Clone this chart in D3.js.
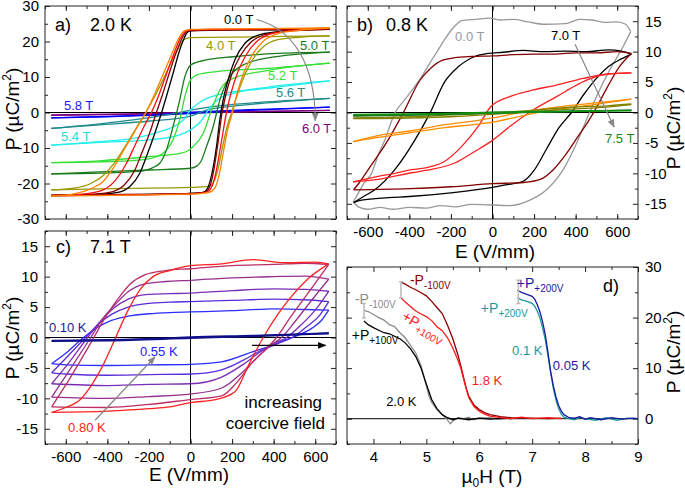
<!DOCTYPE html>
<html><head><meta charset="utf-8">
<script src="https://cdnjs.cloudflare.com/ajax/libs/d3/7.8.5/d3.min.js"></script>
<style>
body{margin:0;background:#fff;}
svg{display:block;}
</style></head><body>
<script>
var w = 685, h = 491;
var font = "'Liberation Sans', Arial, Helvetica, sans-serif";

// ---------- tick labels ----------
var ticksE = [-600,-400,-200,0,200,400,600];
var ticksPa = [-30,-20,-10,0,10,20,30];
var ticksPbc = [-15,-10,-5,0,5,10,15];
var ticksH = [4,5,6,7,8,9];
var ticksPd = [0,10,20,30];

// ---------- panel a: 2.0 K, P(E) loops at several fields. [upper branch, lower branch], E in V/mm ----------
var loopsA = [
  // 6.0 T
  [[[-670,-0.7],[-300,-0.4],[0,0],[300,0.3],[670,0.6]],
   [[-670,-0.8],[-300,-0.5],[0,-0.1],[300,0.2],[670,0.6]]],
  // 5.8 T
  [[[-670,-1.5],[-400,-1.1],[-100,-0.4],[0,0],[200,0.6],[450,1.1],[670,1.5]],
   [[-670,-1.5],[-400,-1.2],[-100,-0.6],[0,-0.3],[200,0.4],[450,1.0],[670,1.5]]],
  // 5.6 T
  [[[-670,-4.5],[-437,-3.2],[-276,-2.1],[-116,-0.7],[0,0.7],[125,1.8],[366,3.0],[670,4.0]],
   [[-670,-4.5],[-437,-3.5],[-196,-2.4],[0,-1.0],[77,0.7],[205,1.8],[366,2.7],[670,4.0]]],
  // 5.4 T
  [[[-670,-9.2],[-437,-8.2],[-276,-7.3],[-148,-5.4],[-67,-3.5],[-35,-2.1],[0,0.7],[48,3.0],[125,4.9],[366,6.8],[670,8.9]],
   [[-670,-9.2],[-437,-8.4],[-196,-7.7],[-52,-6.3],[0,-4.9],[48,-2.6],[96,1.6],[141,4.0],[205,5.4],[366,7.1],[670,8.9]]],
  // 5.2 T
  [[[-670,-14.1],[-437,-13.9],[-212,-13.2],[-160,-12.4],[-132,-11.5],[-84,-7.7],[-52,-2.1],[-27,4.5],[0,9.2],[31,10.6],[125,11.5],[366,12.4],[670,13.9]],
   [[-670,-14.1],[-437,-13.6],[-196,-12.4],[-52,-11.5],[-10,-10.7],[13,-9.6],[61,-5.9],[101,0.7],[141,6.3],[205,9.6],[366,11.8],[670,13.9]]],
  // 5.0 T
  [[[-670,-17.3],[-437,-17.1],[-260,-16.6],[-212,-16.2],[-170,-15.2],[-148,-14.3],[-116,-10.6],[-84,-4],[-52,3.5],[-27,10.1],[-10,12.6],[0,13.4],[77,14.8],[205,15.7],[366,16.5],[670,17.0]],
   [[-670,-17.3],[-437,-16.7],[-196,-16.2],[0,-15.7],[30,-15.1],[50,-13.8],[77,-9.6],[109,-4],[141,3.5],[189,10.1],[238,12.9],[366,15.3],[670,17.0]]],
  // 4.0 T
  [[[-670,-21.8],[-560,-21.3],[-480,-20],[-421,-17.8],[-370,-14.5],[-310,-9.2],[-260,-4.3],[-215,0],[-170,4.8],[-130,9.5],[-90,14.5],[-60,18],[-30,20.6],[0,21.1],[300,21.3],[670,21.6]],
   [[-670,-21.8],[-300,-21.4],[0,-21.1],[90,-20.8],[112,-19.5],[132,-16],[155,-9.5],[176,-4],[198,0],[225,5],[260,10.5],[300,15],[350,18.5],[420,20.5],[520,21.2],[670,21.6]]],
  // 0.0 T
  [[[-670,-23.4],[-480,-23.2],[-357,-22.6],[-293,-20.9],[-244,-17.1],[-212,-12.4],[-172,-5.9],[-140,-0.2],[-116,4.5],[-84,11],[-52,17.6],[-30,21.0],[-19,22.3],[0,23.0],[150,23.2],[400,23.3],[670,23.5]],
   [[-670,-23.4],[-400,-23.2],[-100,-23.0],[0,-22.8],[60,-22.5],[80,-21.6],[100,-18.0],[125,-9.6],[141,-2.1],[157,3.5],[181,9.2],[213,14.8],[262,19.5],[326,21.8],[420,22.8],[550,23.3],[670,23.5]]],
  // 1 T-ish (dark red)
  [[[-670,-23.3],[-500,-23.1],[-390,-22.5],[-320,-20.5],[-270,-16.5],[-235,-11.5],[-195,-5.5],[-164,0],[-135,5],[-100,11.5],[-65,17.5],[-40,21],[-22,22.6],[0,23.1],[300,23.3],[670,23.4]],
   [[-670,-23.3],[-200,-23.0],[0,-22.8],[65,-22.5],[88,-21.5],[108,-17.5],[130,-9.5],[152,0],[172,5.5],[200,11],[240,16],[290,19.8],[350,21.8],[440,22.8],[670,23.4]]],
  // red
  [[[-670,-23.4],[-520,-23.0],[-420,-21.8],[-360,-19.0],[-310,-14.5],[-265,-9],[-220,-3.5],[-188,0],[-155,4.5],[-115,11],[-80,16.5],[-50,20.8],[-28,22.7],[0,23.3],[300,23.5],[670,23.7]],
   [[-670,-23.4],[0,-22.9],[75,-22.5],[100,-21.2],[120,-17.5],[145,-9.5],[173,0],[195,5.5],[225,11],[265,16],[315,19.8],[380,22],[470,23],[670,23.7]]],
  // orange
  [[[-670,-23.5],[-560,-22.9],[-480,-21.5],[-421,-19.5],[-370,-15.5],[-310,-9.5],[-260,-4.5],[-215,0],[-170,5.5],[-130,11],[-90,16.5],[-60,20.5],[-30,23],[0,23.4],[300,23.6],[670,23.8]],
   [[-670,-23.5],[0,-23.0],[90,-22.5],[117,-21.3],[138,-17.5],[160,-10.5],[180,-4.5],[202,0],[225,5.5],[255,11],[295,16],[345,19.8],[410,22],[500,23],[670,23.8]]]
];
var colorsA = ["#800080","#0000ff","#1f8a8a","#22eeee","#33e033","#1a7a1a","#999900","#000000","#800000","#ff1010","#ff8000"];

// ---------- panel b: 0.8 K ----------
var loopsB = [
  // 0.0 T
  [[[-670,-14.7],[-646,-13.3],[-618,-11.6],[-582,-10],[-550,-7],[-518,-4.5],[-470,-0.1],[-422,2.1],[-380,4],[-341,5.9],[-300,8.2],[-261,10.3],[-230,12],[-197,13.6],[-170,14.6],[-149,15.1],[-80,15.3],[-13,15.5],[40,15.2],[100,15.3],[170,14.9],[250,14.5],[350,14.6],[420,15.3],[480,15.2],[540,14.8],[600,14.9],[640,14.5],[665,13.3]],
   [[-670,-14.7],[-640,-15.6],[-600,-15.9],[-540,-15.6],[-480,-15.9],[-400,-15.6],[-320,-15.7],[-250,-15.3],[-180,-15.5],[-100,-15.1],[0,-15.2],[83,-15.3],[180,-14.4],[260,-12.7],[340,-9.4],[404,-5.1],[452,-1.2],[500,2.6],[564,7.0],[628,10.8],[665,13.3]]],
  // 7.0 T
  [[[-668,-14.8],[-620,-13.8],[-566,-12.7],[-470,-9.4],[-373,-4.5],[-301,-0.1],[-229,5.1],[-165,7.5],[-85,9.2],[-21,9.7],[50,9.9],[150,10.2],[250,10.0],[350,10.1],[450,10.0],[560,10.3],[620,10.1],[668,9.6]],
   [[-668,-14.8],[-630,-14.4],[-500,-14.0],[-400,-13.8],[-200,-13.2],[0,-12.3],[62,-11.9],[147,-11.3],[200,-9.5],[260,-6],[320,-2.5],[380,0],[440,3],[500,5.6],[560,7.6],[620,8.8],[668,9.6]]],
  // dark red
  [[[-668,-12.7],[-640,-11.5],[-598,-9.4],[-502,-4.5],[-430,-0.1],[-349,5.3],[-300,7.2],[-240,8.6],[-181,9.0],[-100,9.2],[0,9.3],[100,9.5],[200,9.6],[300,9.6],[400,9.8],[500,9.8],[600,10.0],[668,9.7]],
   [[-668,-12.7],[-400,-12.5],[-200,-12.2],[0,-11.7],[150,-11.5],[230,-11.0],[290,-9.5],[350,-7],[410,-4],[460,-1.5],[500,0.8],[550,4],[610,7.5],[668,9.7]]],
  // red
  [[[-670,-11.4],[-550,-10.5],[-470,-10.0],[-390,-9.4],[-310,-9.0],[-229,-8.0],[-149,-5.6],[-69,-2.3],[-10,0.9],[83,2.6],[195,3.7],[308,4.5],[436,5.6],[548,6.3],[668,6.5]],
   [[-670,-11.4],[-550,-11.0],[-390,-9.9],[-300,-9.4],[-181,-8.3],[-85,-6.4],[3,-4.5],[83,-2.3],[195,0.4],[308,2.6],[420,4.8],[532,6.2],[668,6.5]]],
  // orange
  [[[-670,-4.8],[-550,-3.8],[-390,-3.0],[-229,-2.0],[-69,-1.3],[0,-0.9],[147,0.1],[308,0.9],[468,1.5],[668,2.2]],
   [[-670,-4.8],[-550,-4.1],[-390,-3.3],[-229,-2.5],[-69,-1.9],[0,-1.6],[147,-0.5],[308,0.5],[468,1.2],[668,2.2]]],
  // olive
  [[[-670,-0.9],[-400,-0.7],[-200,-0.4],[0,-0.1],[200,0.4],[400,0.9],[550,1.1],[668,1.4]],
   [[-670,-1.0],[-400,-0.9],[-200,-0.7],[0,-0.3],[200,0.2],[400,0.6],[550,0.9],[668,1.3]]],
  // dark green
  [[[-670,-0.5],[-300,-0.3],[0,0],[300,0.2],[668,0.4]],
   [[-670,-0.6],[-300,-0.4],[0,-0.1],[300,0.1],[668,0.4]]],
  // 7.5 T
  [[[-670,-0.3],[-300,-0.2],[0,0.05],[300,0.2],[668,0.3]],
   [[-670,-0.4],[-300,-0.3],[0,-0.1],[300,0.1],[668,0.3]]]
];
var colorsB = ["#999999","#000000","#800000","#ff2020","#ff8c00","#808000","#1e6e1e","#109010"];

// ---------- panel c: 7.1 T, temperatures 0.55 K ... 0.80 K ----------
var loopsC = [
  [[[-668,-4.3],[-600,-2.6],[-515,0],[-450,1.6],[-380,2.8],[-300,3.5],[-200,3.9],[-100,4.1],[0,4.2],[200,4.4],[400,4.7],[550,4.6],[665,4.5]],
   [[-668,-4.3],[-600,-4.5],[-400,-4.6],[-200,-4.5],[0,-4.4],[150,-4.0],[294,-2.4],[400,-1.2],[454,-0.4],[520,0.4],[583,1.5],[630,2.8],[665,4.5]]],
  [[[-668,-5.8],[-600,-3.4],[-505,0],[-440,2.3],[-380,3.8],[-300,5.0],[-200,5.6],[-100,5.8],[0,5.9],[200,6.1],[400,6.3],[550,6.2],[665,5.9]],
   [[-668,-5.8],[-600,-6.0],[-400,-6.2],[-200,-6.1],[0,-6.0],[150,-5.3],[250,-3.8],[330,-2.3],[420,-1.0],[490,0],[560,1.8],[620,3.6],[665,5.9]]],
  [[[-668,-7.6],[-600,-4.8],[-495,0],[-430,2.8],[-370,4.8],[-300,6.3],[-200,7.1],[-100,7.2],[0,7.3],[200,7.7],[400,8.0],[550,7.9],[665,7.6]],
   [[-668,-7.6],[-400,-7.9],[-200,-7.7],[0,-7.6],[150,-6.5],[250,-4.5],[330,-2.5],[400,-1.0],[462,0],[530,2.0],[600,4.5],[665,7.6]]],
  [[[-668,-9.8],[-600,-6.3],[-480,0],[-420,3.2],[-360,5.5],[-300,7.5],[-220,8.8],[-120,9.2],[0,9.4],[200,9.8],[400,10.0],[550,10.1],[665,9.6]],
   [[-668,-9.8],[-400,-10.0],[-200,-9.7],[0,-9.3],[150,-8.3],[250,-5.7],[330,-3.0],[390,-1.2],[438,0],[500,2.5],[580,6.0],[665,9.6]]],
  [[[-668,-11.4],[-600,-7.8],[-465,0],[-410,3.3],[-350,6.3],[-290,8.8],[-220,10.3],[-120,11.0],[0,11.3],[200,11.8],[400,12.0],[550,12.2],[665,12.0]],
   [[-668,-11.4],[-400,-11.5],[-200,-11.0],[0,-10.2],[150,-9.6],[220,-7.5],[300,-4.0],[360,-2.0],[414,0],[480,3.3],[570,7.5],[665,12.0]]],
  [[[-668,-12.3],[-600,-11.5],[-530,-10.2],[-470,-7.5],[-420,-4.5],[-360,0],[-300,4.5],[-240,8],[-180,10],[-100,11],[0,11.8],[150,12.1],[300,12.8],[450,12.3],[600,12.4],[665,12.1]],
   [[-668,-12.3],[-400,-12.1],[-200,-11.7],[-100,-11.4],[0,-10.7],[120,-10.2],[214,-8.9],[280,-4.5],[350,0],[420,3.8],[480,6.5],[567,9.7],[665,12.1]]],
  // 0.10 K
  [[[-668,-0.5],[-400,-0.4],[-100,-0.1],[0,0.05],[300,0.3],[500,0.5],[665,0.7]],
   [[-668,-0.6],[-400,-0.5],[0,-0.1],[300,0.2],[665,0.7]]]
];
var colorsC = ["#2d2dff","#5a2ddc","#7a2db4","#96308f","#bb2d66","#ff2222","#10108a"];

// ---------- panel d: P vs field ----------
var dGray = [[3.82,21.4],[3.9,21.2],[4.0,20.6],[4.1,20.0],[4.2,19.5],[4.3,18.6],[4.4,18.2],[4.5,17.0],[4.6,16.0],[4.7,14.5],[4.8,13.0],[4.9,10.5],[5.0,6.5],[5.05,4.5],[5.1,3.2],[5.2,1.8],[5.3,0.8],[5.38,0.0],[5.45,-1.0],[5.52,-0.3],[5.6,0.2],[5.7,0.0],[5.8,0.3],[5.9,-0.2],[6.0,0.1],[6.2,0.2],[6.4,-0.1],[6.55,0.1]];
var dBlack = [[3.82,19.3],[3.9,18.6],[4.0,18.0],[4.1,17.5],[4.2,17.0],[4.3,16.8],[4.4,16.3],[4.5,15.8],[4.6,15.0],[4.7,13.8],[4.8,12.3],[4.9,10.0],[5.0,6.8],[5.1,3.8],[5.2,2.0],[5.3,0.8],[5.4,0.2],[5.5,-0.2],[5.6,0.1],[5.8,-0.2],[6.0,0.1],[6.2,-0.1],[6.5,0.1],[6.6,0]];
var dDarkRed = [[4.52,27.0],[4.6,26.6],[4.7,26.0],[4.8,25.5],[4.9,24.9],[5.0,24.3],[5.1,23.2],[5.2,22.0],[5.3,20.8],[5.4,18.5],[5.5,15.8],[5.6,12.5],[5.65,10.5],[5.7,8.3],[5.75,6.2],[5.8,4.5],[5.9,2.7],[6.0,1.8],[6.1,1.2],[6.2,0.8],[6.4,0.4],[6.6,0.2],[6.8,0.1],[7.0,0.1],[7.3,0],[7.55,0.1]];
var dRed = [[4.52,23.9],[4.6,23.1],[4.7,22.2],[4.8,21.3],[4.9,20.7],[5.0,20.2],[5.1,19.4],[5.2,18.2],[5.3,17.4],[5.4,16.0],[5.5,14.0],[5.6,11.5],[5.65,10.0],[5.7,8.0],[5.75,6.0],[5.8,4.2],[5.9,2.4],[6.0,1.5],[6.1,0.9],[6.2,0.5],[6.4,0.2],[6.6,0],[6.8,0.3],[7.0,0],[7.3,0.2],[7.55,0]];
var dNavy = [[6.72,25.4],[6.8,25.0],[6.9,24.6],[7.0,24.2],[7.05,23.6],[7.1,22.5],[7.15,21.0],[7.2,19.0],[7.25,16.5],[7.3,13.0],[7.35,9.3],[7.4,6.5],[7.45,4.3],[7.5,2.6],[7.55,1.5],[7.6,0.8],[7.7,0.2],[7.8,0.1],[7.9,0.4],[8.0,-0.1],[8.1,0.2],[8.3,-0.2],[8.5,0.2],[8.7,-0.1],[8.9,0.1],[9.0,0]];
var dTeal = [[6.72,23.9],[6.8,23.5],[6.9,23.2],[7.0,22.8],[7.05,22.2],[7.1,21.2],[7.15,19.8],[7.2,17.8],[7.25,15.5],[7.3,12.3],[7.35,9.0],[7.4,6.0],[7.45,3.7],[7.5,2.0],[7.55,0.9],[7.6,0.3],[7.7,0],[7.8,-0.2],[7.9,0.3],[8.0,0],[8.2,-0.3],[8.4,0.2],[8.6,-0.3],[8.8,0.1],[9.0,-0.1]];
var dErrBars = [[3.82,19.9,22.8],[4.52,23.9,27.1],[6.74,22.8,27.4]];

var svg = d3.select("body").append("svg").attr("width", w).attr("height", h)
    .style("font-family", font);
var defs = svg.append("defs");

function marker(id, col){
    defs.append("marker").attr("id", id).attr("viewBox","0 0 10 10")
        .attr("refX", 9).attr("refY", 5).attr("markerWidth", 7).attr("markerHeight", 7)
        .attr("orient", "auto")
        .append("path").attr("d", "M0,1 L10,5 L0,9 Z").attr("fill", col);
}
marker("arrGray", "#888");
marker("arrBlack", "#000");

function panel(o){
    var x = d3.scaleLinear().domain(o.xd).range([o.x0, o.x1]);
    var y = d3.scaleLinear().domain(o.yd).range([o.y1, o.y0]);
    var g = svg.append("g");
    defs.append("clipPath").attr("id", "clip" + o.id).append("rect")
        .attr("x", o.x0).attr("y", o.y0).attr("width", o.x1 - o.x0).attr("height", o.y1 - o.y0);

    function ax(fn, sc, vals, size, lab, tr){
        var a = fn(sc).tickValues(vals).tickSize(-size).tickSizeOuter(0).tickPadding(o.pad || 6)
            .tickFormat(lab ? function(d){ return String(d); } : "");
        var s = g.append("g").attr("transform", tr).call(a)
            .attr("font-size", 15).attr("font-family", font);
        s.select(".domain").remove();
        s.selectAll("line").attr("stroke", "#222");
    }
    ax(d3.axisBottom, x, o.xMajor, 5, o.xLab, "translate(0," + o.y1 + ")");
    ax(d3.axisBottom, x, o.xMinor, 3, false, "translate(0," + o.y1 + ")");
    ax(d3.axisTop, x, o.xMajor, 5, false, "translate(0," + o.y0 + ")");
    ax(d3.axisTop, x, o.xMinor, 3, false, "translate(0," + o.y0 + ")");
    ax(d3.axisLeft, y, o.yMajor, 5, o.yLeft, "translate(" + o.x0 + ",0)");
    ax(d3.axisLeft, y, o.yMinor, 3, false, "translate(" + o.x0 + ",0)");
    ax(d3.axisRight, y, o.yMajor, 5, !o.yLeft, "translate(" + o.x1 + ",0)");
    ax(d3.axisRight, y, o.yMinor, 3, false, "translate(" + o.x1 + ",0)");

    var plot = g.append("g").attr("clip-path", "url(#clip" + o.id + ")");
    if (o.vzero) plot.append("line").attr("x1", x(0)).attr("x2", x(0)).attr("y1", o.y0).attr("y2", o.y1)
        .attr("stroke", "#000").attr("stroke-width", 1);
    plot.append("line").attr("x1", o.x0).attr("x2", o.x1).attr("y1", y(0)).attr("y2", y(0))
        .attr("stroke", "#000").attr("stroke-width", 1);

    g.append("rect").attr("x", o.x0).attr("y", o.y0).attr("width", o.x1 - o.x0).attr("height", o.y1 - o.y0)
        .attr("fill", "none").attr("stroke", "#222").attr("stroke-width", 1);
    return {g: g, plot: plot, x: x, y: y};
}

function drawLoops(p, loops, colors, widths){
    var line = d3.line().x(function(d){ return p.x(d[0]); }).y(function(d){ return p.y(d[1]); })
        .curve(d3.curveMonotoneX);
    loops.forEach(function(l, i){
        l.forEach(function(br){
            p.plot.append("path").attr("d", line(br)).attr("fill", "none")
                .attr("stroke", colors[i]).attr("stroke-width", widths ? widths[i] : 1.3)
                .attr("stroke-linejoin", "round");
        });
    });
}

function label(p, t, e, v, col, size, anchor){
    return p.g.append("text").attr("x", p.x(e)).attr("y", p.y(v)).text(t)
        .attr("fill", col).attr("font-size", size).attr("text-anchor", anchor || "start");
}

function yTitle(xp, yp){
    var t = svg.append("text").attr("transform", "translate(" + xp + "," + yp + ") rotate(-90)")
        .attr("text-anchor", "middle").attr("font-size", 19);
    t.append("tspan").text("P (\u00b5C/m");
    t.append("tspan").text("2").attr("font-size", 12).attr("dy", -8);
    t.append("tspan").text(")").attr("dy", 8);
}

var minorE = d3.range(-700, 701, 100);

// ---- panel a ----
var pa = panel({id: "a", x0: 45, x1: 336, y0: 6, y1: 219, xd: [-700, 700], yd: [-30, 30],
    xMajor: ticksE, xMinor: minorE, yMajor: ticksPa, yMinor: d3.range(-25, 26, 10),
    xLab: false, yLeft: true, vzero: true});
drawLoops(pa, loopsA, colorsA);
label(pa, "a)", -652, 23, "#000", 18);
label(pa, "2.0 K", -483, 23, "#000", 18);
label(pa, "0.0 T", 161, 24.9, "#000", 13);
label(pa, "4.0 T", 75, 17.6, "#999900", 13);
label(pa, "5.0 T", 527, 17.6, "#1a7a1a", 13);
label(pa, "5.2 T", 373, 9.15, "#33e033", 13);
label(pa, "5.6 T", 411, 4.5, "#1f8a8a", 13);
label(pa, "6.0 T", 536, -5.8, "#800080", 13);
label(pa, "5.8 T", -609, 0.6, "#1a1aff", 13);
label(pa, "5.4 T", -623, -8.0, "#22dddd", 13);
pa.g.append("path")
    .attr("d", "M" + pa.x(318) + "," + pa.y(26.2) + " C" + pa.x(490) + "," + pa.y(23.5) + " " + pa.x(600) + "," + pa.y(14) + " " + pa.x(600) + "," + pa.y(-2.3))
    .attr("fill", "none").attr("stroke", "#888").attr("stroke-width", 1.2).attr("marker-end", "url(#arrGray)");
yTitle(19, 109);

// ---- panel b ----
var pb = panel({id: "b", x0: 347, x1: 638, y0: 6, y1: 219, xd: [-700, 700], yd: [-17.5, 17.5],
    xMajor: ticksE, xMinor: minorE, yMajor: ticksPbc, yMinor: d3.range(-17.5, 17.6, 5),
    xLab: true, yLeft: false, vzero: true, pad: 7});
drawLoops(pb, loopsB, colorsB);
label(pb, "b)", -652, 13.4, "#000", 18);
label(pb, "0.8 K", -512, 13.4, "#000", 18);
label(pb, "0.0 T", -180, 11.75, "#999999", 13);
label(pb, "7.0 T", 281, 11.9, "#000", 13);
label(pb, "7.5 T", 541, -5.0, "#1a8a1a", 13);
pb.g.append("line").attr("x1", pb.x(397)).attr("y1", pb.y(11.2)).attr("x2", pb.x(585)).attr("y2", pb.y(-2.4))
    .attr("stroke", "#888").attr("stroke-width", 1.2).attr("marker-end", "url(#arrGray)");
yTitle(680, 128);
svg.append("text").attr("x", 495).attr("y", 258).attr("text-anchor", "middle").attr("font-size", 19).text("E (V/mm)");

// ---- panel c ----
var pc = panel({id: "c", x0: 45, x1: 336, y0: 231, y1: 444, xd: [-700, 700], yd: [-17.5, 17.5],
    xMajor: ticksE, xMinor: minorE, yMajor: ticksPbc, yMinor: d3.range(-17.5, 17.6, 5),
    xLab: true, yLeft: true, vzero: true, pad: 7});
drawLoops(pc, loopsC, colorsC, [1.3,1.3,1.3,1.3,1.3,1.3,1.8]);
label(pc, "c)", -647, 13.9, "#000", 18);
label(pc, "7.1 T", -483, 13.9, "#000", 18);
label(pc, "0.10 K", -681, 0.9, "#1a1aa0", 13);
label(pc, "0.55 K", -243, -3.0, "#2020ff", 13);
label(pc, "0.80 K", -589, -15.5, "#ff2020", 13);
label(pc, "increasing", 633, -11.6, "#000", 17, "end");
label(pc, "coercive field", 647, -15.0, "#000", 17, "end");
pc.g.append("line").attr("x1", pc.x(-459)).attr("y1", pc.y(-13.6)).attr("x2", pc.x(-171)).attr("y2", pc.y(-3.2))
    .attr("stroke", "#888").attr("stroke-width", 1.2).attr("marker-end", "url(#arrGray)");
pc.g.append("line").attr("x1", pc.x(296)).attr("y1", pc.y(-1.3)).attr("x2", pc.x(650)).attr("y2", pc.y(-1.3))
    .attr("stroke", "#000").attr("stroke-width", 1.2).attr("marker-end", "url(#arrBlack)");
yTitle(19, 338);
svg.append("text").attr("x", 189).attr("y", 481).attr("text-anchor", "middle").attr("font-size", 19).text("E (V/mm)");

// ---- panel d ----
var pd = panel({id: "d", x0: 347, x1: 638, y0: 267, y1: 444, xd: [3.5, 9], yd: [-5, 30],
    xMajor: ticksH, xMinor: d3.range(3.5, 9.01, 1), yMajor: ticksPd, yMinor: [-5, 5, 15, 25],
    xLab: true, yLeft: false, vzero: false, pad: 7});
var lineD = d3.line().x(function(d){ return pd.x(d[0]); }).y(function(d){ return pd.y(d[1]); })
    .curve(d3.curveLinear);
[[dGray, "#8c8c8c"], [dBlack, "#000"], [dDarkRed, "#8b0000"], [dRed, "#ff1a1a"], [dTeal, "#1a9a9a"], [dNavy, "#1a1aa0"]]
    .forEach(function(s){
        pd.plot.append("path").attr("d", lineD(s[0])).attr("fill", "none")
            .attr("stroke", s[1]).attr("stroke-width", 1.3);
    });
dErrBars.forEach(function(b){
    var xx = pd.x(b[0]);
    pd.g.append("path").attr("d", "M" + xx + "," + pd.y(b[1]) + "V" + pd.y(b[2]) +
        "M" + (xx - 2) + "," + pd.y(b[1]) + "h4M" + (xx - 2) + "," + pd.y(b[2]) + "h4")
        .attr("stroke", "#bbb").attr("stroke-width", 1.5).attr("fill", "none");
});
function pLabel(t1, t2, e, v, col, rot){
    var t = pd.g.append("text").attr("x", pd.x(e)).attr("y", pd.y(v)).attr("fill", col).attr("font-size", 14);
    if (rot) t.attr("transform", "rotate(" + rot + "," + pd.x(e) + "," + pd.y(v) + ")");
    t.append("tspan").text(t1);
    t.append("tspan").text(t2).attr("font-size", 10).attr("dy", 4);
}
label(pd, "d)", 8.34, 25.05, "#000", 18);
pLabel("-P", "-100V", 3.65, 22.7, "#8c8c8c");
pLabel("+P", "+100V", 3.59, 15.6, "#000");
pLabel("-P", "-100V", 4.69, 26.4, "#8b0000");
pLabel("+P", "+100V", 4.52, 19.7, "#ff1a1a", 30);
pLabel("+P", "+200V", 6.71, 25.8, "#1a1aa0");
pLabel("+P", "+200V", 6.03, 20.9, "#1a9a9a");
label(pd, "0.1 K", 6.62, 12.6, "#1a9a9a", 13);
label(pd, "0.05 K", 7.39, 9.6, "#1a1aa0", 13);
label(pd, "1.8 K", 5.86, 6.7, "#ff1a1a", 13);
label(pd, "2.0 K", 4.24, 2.5, "#000", 13);
yTitle(680, 352);
var xt = svg.append("text").attr("x", 492).attr("y", 483).attr("text-anchor", "middle").attr("font-size", 19);
xt.append("tspan").text("\u00b5");
xt.append("tspan").text("0").attr("font-size", 12).attr("dy", 4);
xt.append("tspan").text("H (T)").attr("dy", -4);
</script>
</body></html>
